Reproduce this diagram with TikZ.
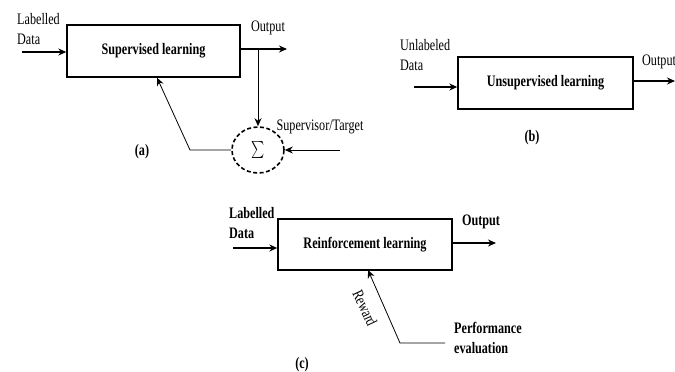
\documentclass[tikz,border=0pt]{standalone}
\usepackage{graphicx}
\usepackage{fontspec}
\setmainfont{Liberation Serif}[FakeStretch=0.76]
\usetikzlibrary{arrows.meta,shapes.geometric,calc}
\begin{document}
\begin{tikzpicture}[x=1pt,y=-1pt,
  txt/.style={font=\fontsize{16}{20}\selectfont, inner sep=0pt},
  btxt/.style={font=\fontsize{16}{20}\selectfont\bfseries, inner sep=0pt},
  box/.style={draw, line width=1.4pt, rectangle, inner sep=0pt, font=\fontsize{16}{20}\selectfont\bfseries},
  arr/.style={line width=1.2pt, -{Stealth[length=8pt,width=7pt]}},
  thinarr/.style={line width=0.8pt, -{Stealth[length=8pt,width=7pt]}}]
\useasboundingbox (0,0) rectangle (675,372);

% ---------- (a) ----------
\node[box, minimum width=173pt, minimum height=52pt] (A) at (153.5,51) {\raisebox{4pt}{Supervised learning}};
\node[txt, anchor=north west, align=left] (alab) at (17,13) {Labelled\\Data};
\coordinate (ain) at (22,52);
\draw[arr] (ain) -- (ain -| A.west);
\coordinate (aout) at (287,49);
\draw[arr] (aout -| A.east) -- (aout);
\node[txt] (aouttxt) at (268,28) {Output};
\coordinate (abr) at (258,49);
\node[draw, dash pattern=on 4pt off 2.5pt, line width=1.6pt, ellipse, minimum width=52pt, minimum height=46pt, inner sep=0pt] (S) at (258,150) {\scalebox{1.25}[1.7]{$\sum$}};
\draw[arr, line width=0.9pt] (abr) -- (S.north);
\coordinate (sup) at (340,150);
\draw[arr, line width=0.9pt] (sup) -- (S.east);
\node[txt] (suptxt) at (320,127) {Supervisor/Target};
\coordinate (fb) at (190,150);
\draw[thinarr] (S.west) -- (fb) -- ($(A.south)+(3.5,0)$);
\node[btxt] (alabel) at (142,152) {(a)};

% ---------- (b) ----------
\node[box, minimum width=175pt, minimum height=52pt] (B) at (545.5,83) {\raisebox{4pt}{Unsupervised learning}};
\node[txt, anchor=north west, align=left] (blab) at (400,39) {Unlabeled\\Data};
\coordinate (bin) at (414,87);
\draw[arr] (bin) -- (bin -| B.west);
\coordinate (bout) at (675,81);
\draw[arr] (bout -| B.east) -- (bout);
\node[txt, anchor=west] (bouttxt) at (642,62) {Output};
\node[btxt] (blabel) at (532,138) {(b)};

% ---------- (c) ----------
\node[box, minimum width=174pt, minimum height=51pt] (C) at (365,244.5) {\raisebox{4pt}{Reinforcement learning}};
\node[btxt, anchor=north west, align=left] (clab) at (229,207) {Labelled\\Data};
\coordinate (cin) at (233,248);
\draw[arr] (cin) -- (cin -| C.west);
\coordinate (cout) at (496,243);
\draw[arr] (cout -| C.east) -- (cout);
\node[btxt] (couttxt) at (481,222) {Output};
\coordinate (pe) at (445,343);
\coordinate (bend) at (400,343);
\coordinate (rw) at (368,270);
\draw[thinarr] (pe) -- (bend) -- (rw);
\node[txt, rotate=-65] (reward) at (365,308) {Reward};
\node[btxt, anchor=north west, align=left] (perf) at (454,322) {Performance\\evaluation};
\node[btxt] (clabel) at (302,365) {(c)};
\end{tikzpicture}
\end{document}
